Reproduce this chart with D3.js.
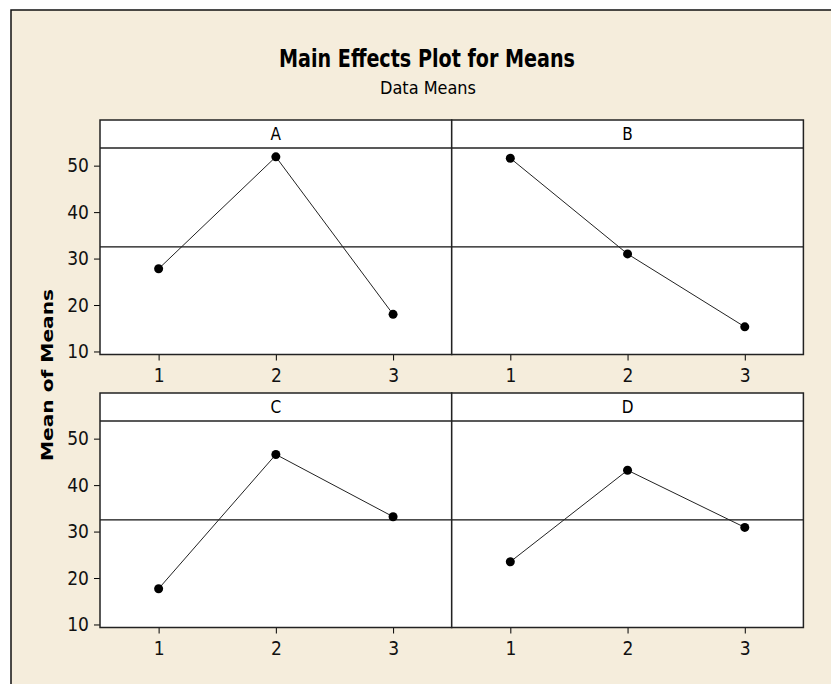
<!DOCTYPE html>
<html>
<head>
<meta charset="utf-8">
<script src="https://cdn.jsdelivr.net/npm/d3@7"></script>
<style>
  body { margin: 0; background: #fff; }
  .narrow { font-family: "DejaVu Sans Condensed", "Liberation Sans Narrow", "DejaVu Sans", sans-serif; }
</style>
</head>
<body>
<div id="chart"></div>
<script>
// factor names, levels and the mean response at each level
const factors = ['A', 'B', 'C', 'D'];
const levels = [1, 2, 3];
const meansA = [27.8, 51.9, 18.0];
const meansB = [51.6, 31.0, 15.3];
const meansC = [17.7, 46.6, 33.2];
const meansD = [23.5, 43.2, 30.9];
const grandMean = 32.5;
const yTicks = [10, 20, 30, 40, 50];

class MainEffectsPlot {
  constructor(_config, data) {
    this.config = {
      parentElement: _config.parentElement,
      containerWidth: 831,
      containerHeight: 684,
      panelLeft: 100,
      panelWidth: 351.7,
      rowTops: [120, 393],
      stripHeight: 28,
      plotHeight: 206.5,
    };
    this.data = data;
    this.initVis();
  }

  initVis() {
    const vis = this;
    const c = vis.config;

    vis.svg = d3.select(c.parentElement)
      .append('svg')
      .attr('width', c.containerWidth)
      .attr('height', c.containerHeight);

    // beige page with a frame on the top and left
    vis.svg.append('rect')
      .attr('x', 11).attr('y', 10)
      .attr('width', c.containerWidth).attr('height', c.containerHeight)
      .attr('fill', '#f5eddc')
      .attr('stroke', '#111')
      .attr('stroke-width', 1.5);

    vis.svg.append('text')
      .attr('class', 'narrow')
      .attr('x', 427).attr('y', 67)
      .attr('text-anchor', 'middle')
      .attr('textLength', 296)
      .attr('lengthAdjust', 'spacingAndGlyphs')
      .style('font-size', '24px')
      .style('font-weight', 'bold')
      .text('Main Effects Plot for Means');

    vis.svg.append('text')
      .attr('class', 'narrow')
      .attr('x', 428).attr('y', 94)
      .attr('text-anchor', 'middle')
      .attr('textLength', 96)
      .attr('lengthAdjust', 'spacingAndGlyphs')
      .style('font-size', '17px')
      .text('Data Means');

    vis.svg.append('text')
      .attr('transform', 'translate(53,375) rotate(-90)')
      .attr('text-anchor', 'middle')
      .attr('textLength', 172)
      .attr('lengthAdjust', 'spacingAndGlyphs')
      .style('font-family', '"DejaVu Sans", Verdana, sans-serif')
      .style('font-size', '16px')
      .style('font-weight', 'bold')
      .text('Mean of Means');

    vis.xScale = d3.scaleLinear()
      .domain([0.5, 3.5])
      .range([0, c.panelWidth]);

    vis.yScale = d3.scaleLinear()
      .domain([9.35, 53.8])
      .range([c.plotHeight, 0]);

    vis.updateVis();
  }

  updateVis() {
    const vis = this;
    vis.xAxis = d3.axisBottom(vis.xScale)
      .tickValues(levels)
      .tickFormat(d3.format('d'))
      .tickSize(6)
      .tickPadding(8)
      .tickSizeOuter(0);
    vis.yAxis = d3.axisLeft(vis.yScale)
      .tickValues(yTicks)
      .tickSize(6)
      .tickPadding(5)
      .tickSizeOuter(0);
    vis.line = d3.line()
      .x((d) => vis.xScale(d.level))
      .y((d) => vis.yScale(d.mean));
    vis.renderVis();
  }

  renderVis() {
    const vis = this;
    const c = vis.config;

    vis.data.forEach((panel, i) => {
      const col = i % 2;
      const row = Math.floor(i / 2);
      const x0 = c.panelLeft + col * c.panelWidth;
      const top = c.rowTops[row];
      const g = vis.svg.append('g')
        .attr('transform', `translate(${x0},${top})`);

      // header strip
      g.append('rect')
        .attr('width', c.panelWidth).attr('height', c.stripHeight)
        .attr('fill', '#fff');
      g.append('text')
        .attr('class', 'narrow')
        .attr('x', c.panelWidth / 2).attr('y', c.stripHeight / 2 + 6)
        .attr('text-anchor', 'middle')
        .style('font-size', '17px')
        .text(panel.factor);

      const plot = g.append('g')
        .attr('transform', `translate(0,${c.stripHeight})`);
      plot.append('rect')
        .attr('width', c.panelWidth).attr('height', c.plotHeight)
        .attr('fill', '#fff');

      // grand mean reference line
      plot.append('line')
        .attr('x1', 0).attr('x2', c.panelWidth)
        .attr('y1', vis.yScale(grandMean)).attr('y2', vis.yScale(grandMean))
        .attr('stroke', '#111')
        .attr('stroke-width', 1.3);

      plot.append('path')
        .datum(panel.values)
        .attr('d', vis.line)
        .attr('fill', 'none')
        .attr('stroke', '#222')
        .attr('stroke-width', 1);

      plot.selectAll('.pt')
        .data(panel.values)
        .join('circle')
        .attr('class', 'pt')
        .attr('cx', (d) => vis.xScale(d.level))
        .attr('cy', (d) => vis.yScale(d.mean))
        .attr('r', 4.5)
        .attr('fill', '#000');

      const xAxisG = plot.append('g')
        .attr('class', 'narrow')
        .attr('transform', `translate(0,${c.plotHeight})`)
        .call(vis.xAxis);
      xAxisG.attr('font-family', null).attr('font-size', null);
      xAxisG.select('.domain').remove();
      xAxisG.selectAll('text').style('font-size', '19px').attr('fill', '#111');

      if (col === 0) {
        const yAxisG = plot.append('g')
          .attr('class', 'narrow')
          .call(vis.yAxis);
        yAxisG.attr('font-family', null).attr('font-size', null);
        yAxisG.select('.domain').remove();
        yAxisG.selectAll('text').style('font-size', '19px').attr('fill', '#111');
      }

      // panel outlines
      g.append('rect')
        .attr('width', c.panelWidth).attr('height', c.stripHeight + c.plotHeight)
        .attr('fill', 'none')
        .attr('stroke', '#222')
        .attr('stroke-width', 1.5);
      g.append('line')
        .attr('x1', 0).attr('x2', c.panelWidth)
        .attr('y1', c.stripHeight).attr('y2', c.stripHeight)
        .attr('stroke', '#222')
        .attr('stroke-width', 1.5);
    });
  }
}

const panels = [meansA, meansB, meansC, meansD].map((means, i) => ({
  factor: factors[i],
  values: levels.map((level, j) => ({ level, mean: means[j] })),
}));

new MainEffectsPlot({ parentElement: '#chart' }, panels);
</script>
</body>
</html>
